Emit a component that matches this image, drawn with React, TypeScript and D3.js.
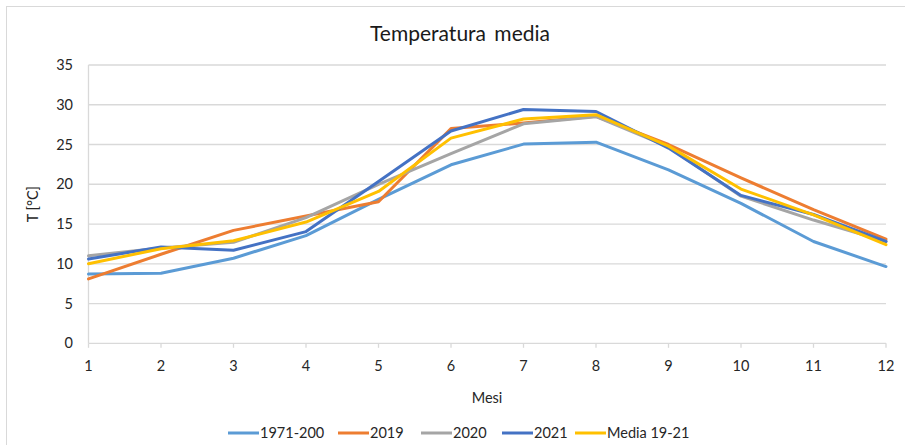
import React from "react";
import * as d3 from "d3";

const months = [1, 2, 3, 4, 5, 6, 7, 8, 9, 10, 11, 12];
const s1971 = [8.7, 8.8, 10.7, 13.55, 18.1, 22.45, 25.05, 25.3, 21.8, 17.6, 12.8, 9.65];
const s2019 = [8.1, 11.2, 14.2, 16.0, 17.8, 27.0, 27.7, 28.55, 25.0, 20.8, 16.8, 13.1];
const s2020 = [11.0, 12.0, 12.7, 15.8, 20.0, 23.85, 27.6, 28.5, 24.7, 18.5, 15.5, 12.8];
const s2021 = [10.6, 12.1, 11.7, 14.05, 20.35, 26.7, 29.4, 29.15, 24.55, 18.6, 16.2, 12.8];
const sMedia = [10.0, 11.9, 12.9, 15.25, 19.1, 25.8, 28.2, 28.75, 24.8, 19.4, 16.15, 12.4];
const yTicks = [0, 5, 10, 15, 20, 25, 30, 35];

const seriesNames = ["1971-200", "2019", "2020", "2021", "Media 19-21"];
const seriesValues = [s1971, s2019, s2020, s2021, sMedia];
const seriesColors = ["#5B9BD5", "#ED7D31", "#A5A5A5", "#4472C4", "#FFC000"];
const legendX = [228, 338, 421, 502, 575];

const W = 905;
const H = 445;
const FONT = "Lato, 'Liberation Sans', sans-serif";

export default function App() {
  const x = d3.scaleLinear().domain([1, 12]).range([88.5, 886]);
  const y = d3.scaleLinear().domain([0, 35]).range([343.3, 65]);
  const line = d3
    .line<number>()
    .x((_, i) => x(months[i]))
    .y((d) => y(d));

  return (
    <svg
      width={W}
      height={H}
      style={{ position: "absolute", left: 0, top: 0, background: "#fff" }}
      fontFamily={FONT}
    >
      <rect x={6.5} y={6.5} width={W + 20} height={H + 20} fill="#fff" stroke="#d9d9d9" strokeWidth={1} />
      <text x={460} y={41} textAnchor="middle" fontSize={21} wordSpacing={3} fill="#1a1a1a">
        Temperatura media
      </text>
      {yTicks.map((t) => (
        <line key={"g" + t} x1={x(1)} x2={x(12)} y1={y(t)} y2={y(t)} stroke="#d9d9d9" strokeWidth={1.3} />
      ))}
      <line x1={x(1)} x2={x(1)} y1={y(35)} y2={y(0)} stroke="#d9d9d9" strokeWidth={1.3} />
      {months.map((m) => (
        <line key={"t" + m} x1={x(m)} x2={x(m)} y1={y(0)} y2={y(0) + 4.5} stroke="#d9d9d9" strokeWidth={1.3} />
      ))}
      {yTicks.map((t) => (
        <text key={"yl" + t} x={73} y={y(t)} dy="0.35em" textAnchor="end" fontSize={14.5} fill="#262626">
          {t}
        </text>
      ))}
      {months.map((m) => (
        <text key={"xl" + m} x={x(m)} y={366} dy="0.35em" textAnchor="middle" fontSize={14.5} fill="#262626">
          {m}
        </text>
      ))}
      <text x={487} y={398} dy="0.35em" textAnchor="middle" fontSize={14.5} fill="#262626">
        Mesi
      </text>
      <text
        transform={`translate(33,${(y(0) + y(35)) / 2}) rotate(-90)`}
        dy="0.35em"
        textAnchor="middle"
        fontSize={14.5}
        fill="#262626"
      >
        T [°C]
      </text>
      {seriesValues.map((vals, i) => (
        <path
          key={"s" + i}
          d={line(vals) || ""}
          fill="none"
          stroke={seriesColors[i]}
          strokeWidth={3}
          strokeLinejoin="round"
          strokeLinecap="round"
        />
      ))}
      {seriesNames.map((n, i) => (
        <g key={"lg" + i} transform={`translate(${legendX[i]},433)`}>
          <line x1={0} x2={31} y1={0} y2={0} stroke={seriesColors[i]} strokeWidth={3} />
          <text x={32} y={0} dy="0.35em" fontSize={14.5} fill="#262626">
            {n}
          </text>
        </g>
      ))}
    </svg>
  );
}
